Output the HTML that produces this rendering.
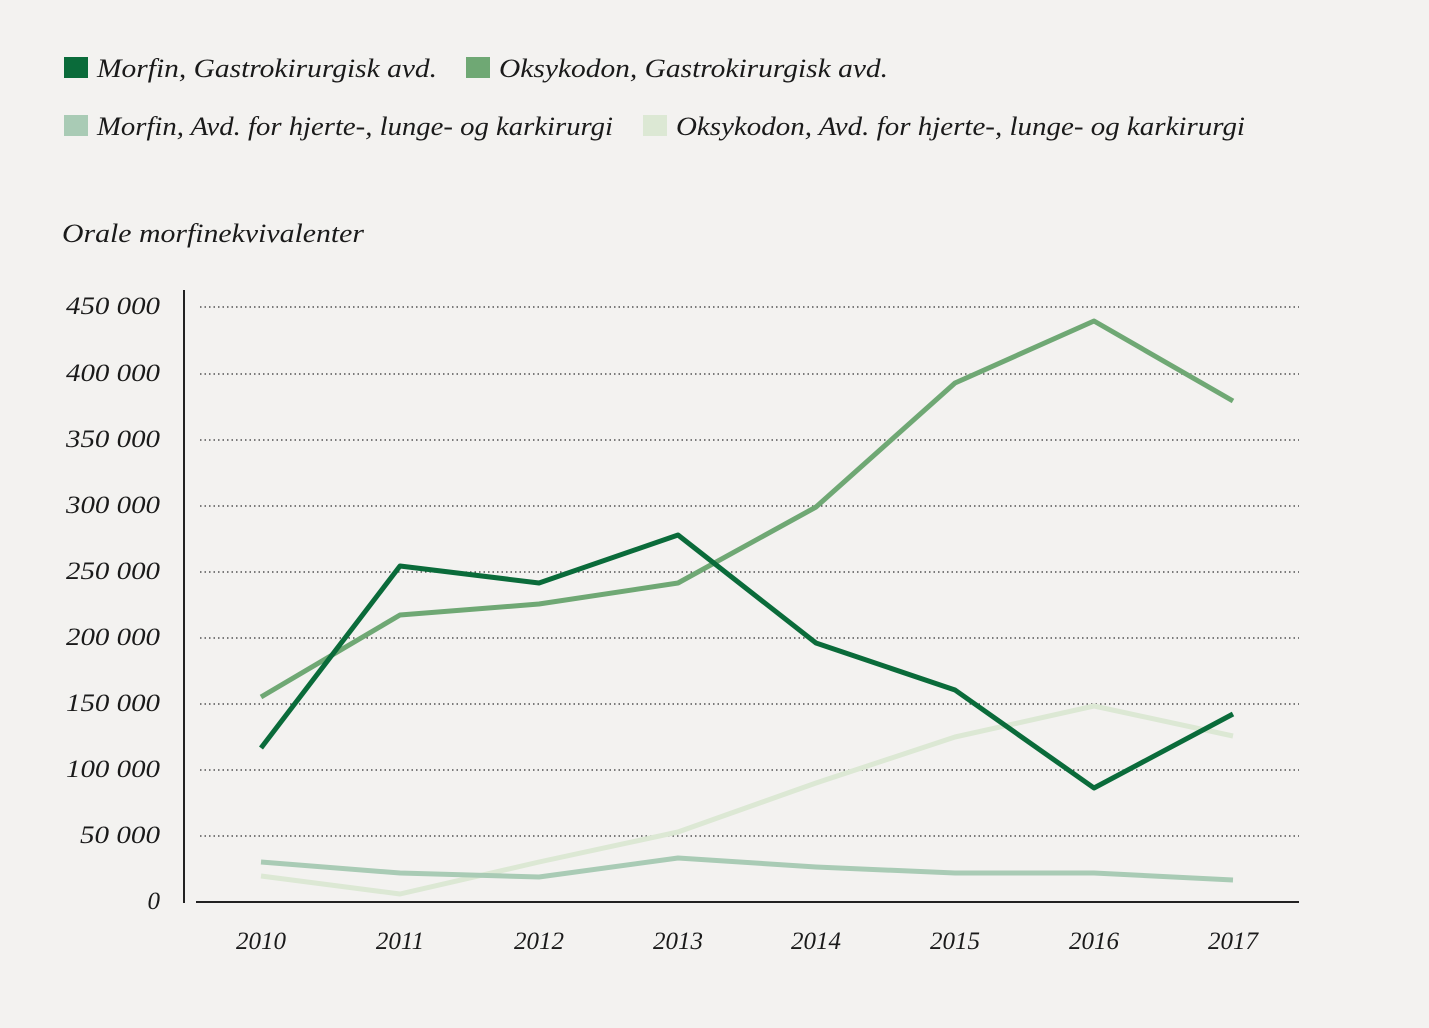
<!DOCTYPE html>
<html><head><meta charset="utf-8"><style>
body{margin:0;background:#f3f2f0;}
svg{display:block}
text{font-family:"Liberation Serif",serif;font-style:italic;fill:#1a1a1a}
</style></head><body>
<svg width="1429" height="1028" viewBox="0 0 1429 1028">
<rect width="1429" height="1028" fill="#f3f2f0"/>
<g font-size="26">
<rect x="64" y="57" width="24" height="21" fill="#0a6b3a"/><text x="97" y="77" textLength="340" lengthAdjust="spacingAndGlyphs">Morfin, Gastrokirurgisk avd.</text>
<rect x="466" y="57" width="24" height="21" fill="#6fa874"/><text x="499" y="77" textLength="389" lengthAdjust="spacingAndGlyphs">Oksykodon, Gastrokirurgisk avd.</text>
<rect x="64" y="115" width="24" height="21" fill="#a9cbb5"/><text x="97" y="135" textLength="516" lengthAdjust="spacingAndGlyphs">Morfin, Avd. for hjerte-, lunge- og karkirurgi</text>
<rect x="643" y="115" width="24" height="21" fill="#dce8d4"/><text x="676" y="135" textLength="569" lengthAdjust="spacingAndGlyphs">Oksykodon, Avd. for hjerte-, lunge- og karkirurgi</text>
<text x="62" y="242" textLength="302" lengthAdjust="spacingAndGlyphs">Orale morfinekvivalenter</text>
</g>
<g stroke="#333" stroke-width="1.3" stroke-dasharray="1.5,3">
<line x1="200" x2="1299" y1="307" y2="307"/><line x1="200" x2="1299" y1="374" y2="374"/>
<line x1="200" x2="1299" y1="440" y2="440"/><line x1="200" x2="1299" y1="506" y2="506"/>
<line x1="200" x2="1299" y1="572" y2="572"/><line x1="200" x2="1299" y1="638" y2="638"/>
<line x1="200" x2="1299" y1="704" y2="704"/><line x1="200" x2="1299" y1="770" y2="770"/>
<line x1="200" x2="1299" y1="836" y2="836"/>
</g>
<line x1="184" y1="290" x2="184" y2="903" stroke="#222" stroke-width="2"/>
<line x1="196" y1="902" x2="1299" y2="902" stroke="#222" stroke-width="2"/>
<g font-size="25" text-anchor="end">
<text x="160" y="314" textLength="94" lengthAdjust="spacingAndGlyphs">450 000</text><text x="160" y="381" textLength="94" lengthAdjust="spacingAndGlyphs">400 000</text><text x="160" y="447" textLength="94" lengthAdjust="spacingAndGlyphs">350 000</text>
<text x="160" y="513" textLength="94" lengthAdjust="spacingAndGlyphs">300 000</text><text x="160" y="579" textLength="94" lengthAdjust="spacingAndGlyphs">250 000</text><text x="160" y="645" textLength="94" lengthAdjust="spacingAndGlyphs">200 000</text>
<text x="160" y="711" textLength="94" lengthAdjust="spacingAndGlyphs">150 000</text><text x="160" y="777" textLength="94" lengthAdjust="spacingAndGlyphs">100 000</text><text x="160" y="843" textLength="80" lengthAdjust="spacingAndGlyphs">50 000</text>
<text x="160" y="909">0</text>
</g>
<g font-size="25" text-anchor="middle">
<text x="261" y="949">2010</text><text x="400" y="949">2011</text><text x="539" y="949">2012</text><text x="678" y="949">2013</text>
<text x="816" y="949">2014</text><text x="955" y="949">2015</text><text x="1094" y="949">2016</text><text x="1233" y="949">2017</text>
</g>
<g fill="none" stroke-width="5" stroke-linejoin="round">
<polyline stroke="#dce8d4" points="261,876 400,894 539,862 678,832 816,783 955,737 1094,706 1233,736"/>
<polyline stroke="#a9cbb5" points="261,862 400,873 539,877 678,858 816,867 955,873 1094,873 1233,880"/>
<polyline stroke="#6fa874" points="261,697 400,615 539,604 678,583 816,507 955,383 1094,321 1233,401"/>
<polyline stroke="#0a6b3a" points="261,748 400,566 539,583 678,535 816,643 955,690 1094,788 1233,714"/>
</g>
</svg>
</body></html>
